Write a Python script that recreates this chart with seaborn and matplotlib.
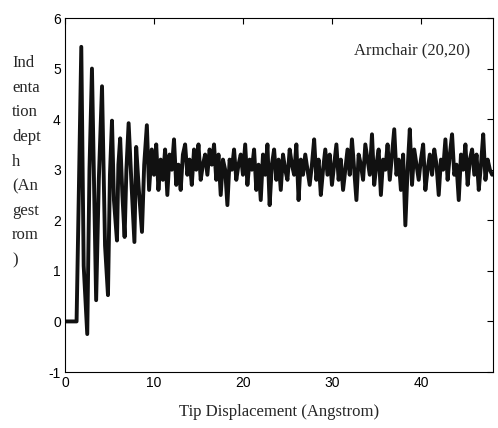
import numpy as np
import pandas as pd
import matplotlib
matplotlib.use("Agg")
import matplotlib.pyplot as plt
import seaborn as sns

# ---- data ----
early_x = [0, 1.3, 1.55, 1.83, 2.1, 2.5, 2.75, 3.03, 3.3, 3.5, 3.8, 4.16, 4.5, 4.83,
           5.05, 5.28, 5.5, 5.84, 6.0, 6.2, 6.45, 6.7, 6.9, 7.15, 7.45, 7.8, 8.0,
           8.3, 8.65, 8.9, 9.2, 9.45, 9.75]
early_y = [0, 0, 2.5, 5.43, 1.1, -0.25, 3.0, 5.0, 2.3, 0.42, 2.8, 4.65, 1.5, 0.52,
           2.9, 3.97, 2.4, 1.6, 3.1, 3.62, 2.5, 1.67, 3.0, 3.92, 2.8, 1.57, 3.45,
           2.6, 1.77, 3.1, 3.88, 2.6, 3.4]

late_x = list(np.round(np.arange(10.0, 48.01, 0.25), 2))
late_y = [2.9, 3.5, 2.6, 3.2, 2.8, 3.4, 2.5, 3.3,
          3.0, 3.6, 2.7, 3.1, 2.6, 3.3, 3.5, 2.9,
          3.2, 2.7, 3.4, 3.0, 3.5, 2.8, 3.1, 3.3,
          2.9, 3.4, 3.1, 3.5, 2.8, 3.3, 2.5, 3.2,
          3.0, 2.3, 3.2, 3.0, 3.4, 2.8, 3.1, 3.3,
          2.9, 3.5, 2.7, 3.2, 3.0, 3.4, 2.6, 3.1,
          2.4, 3.3, 2.9, 3.5, 2.3, 3.1, 3.4, 2.8,
          3.2, 2.6, 3.3, 3.0, 2.8, 3.4, 3.1, 2.9,
          3.5, 2.4, 3.2, 2.9, 3.3, 3.0, 2.7, 3.1,
          3.6, 2.8, 3.2, 2.5, 3.0, 3.4, 2.9, 3.3,
          2.7, 3.1, 3.5, 2.8, 3.2, 2.6, 3.0, 3.4,
          2.9, 3.6, 3.0, 2.4, 3.3, 3.1, 2.8, 3.5,
          3.2, 2.9, 3.7, 2.7, 3.1, 3.4, 2.5, 3.2,
          3.0, 3.5, 2.8, 3.3, 3.8, 2.9, 3.2, 2.6,
          3.3, 1.9, 3.0, 3.8, 2.7, 3.4, 3.1, 2.8,
          3.2, 3.5, 2.6, 3.0, 3.3, 2.9, 3.4, 3.1,
          2.5, 3.2, 3.0, 3.6, 2.8, 3.3, 3.7, 2.9,
          3.1, 2.4, 3.3, 3.0, 3.5, 2.7, 3.2, 3.4,
          2.9, 3.3, 2.6, 3.1, 3.7, 2.8, 3.2, 3.0,
          2.9]

x_ticks = [0, 10, 20, 30, 40]
y_ticks = [-1, 0, 1, 2, 3, 4, 5, 6]
annotation = "Armchair (20,20)"
x_label = "Tip Displacement (Angstrom)"
y_label = "Ind\nenta\ntion\ndept\nh\n(An\ngest\nrom\n)"

df = pd.DataFrame({"disp": early_x + late_x, "depth": early_y + late_y})

# ---- plot ----
sns.set_style("white")
plt.rcParams["font.family"] = ["Liberation Sans", "DejaVu Sans"]
plt.rcParams["axes.unicode_minus"] = False

fig = plt.figure(figsize=(4.98, 4.28), dpi=100)
ax = fig.add_axes([65 / 498, 56 / 428, 428 / 498, 354 / 428])

sns.lineplot(data=df, x="disp", y="depth", ax=ax, color="#111111",
             linewidth=2.8, estimator=None, sort=False)

ax.set_xlim(0, 48.1)
ax.set_ylim(-1, 6)
ax.set_xticks(x_ticks)
ax.set_yticks(y_ticks)
ax.tick_params(direction="in", length=4, width=0.8, top=True, right=True,
               labelsize=10, colors="black", pad=3)
for s in ax.spines.values():
    s.set_visible(True)
    s.set_color("black")
    s.set_linewidth(0.8)

ax.set_xlabel(x_label, family=["Liberation Serif"], fontsize=12, labelpad=10)
ax.set_ylabel("")

ax.text(39.0, 5.36, annotation, family=["Liberation Serif"], fontsize=12,
        ha="center", va="center")

fig.text(12 / 498, 1 - 55 / 428, y_label, family=["Liberation Serif"],
         fontsize=12, ha="left", va="top", linespacing=1.72)

fig.savefig("out.png", dpi=100)
